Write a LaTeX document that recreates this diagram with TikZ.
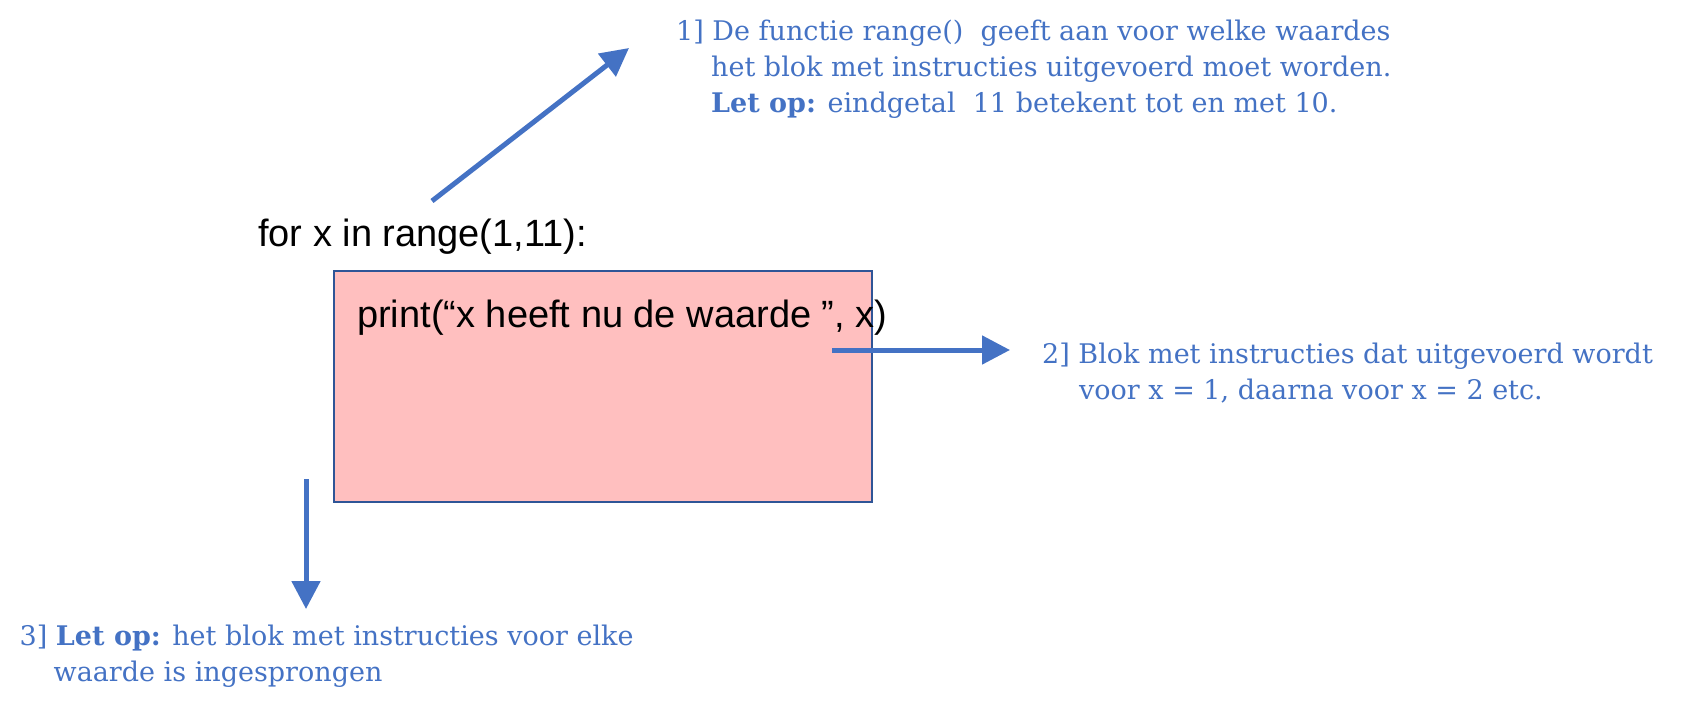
\documentclass[tikz,border=0pt]{standalone}
\usepackage{fontspec}
\setmainfont{DejaVu Serif}
\newfontfamily\codefont{Liberation Sans}
\usetikzlibrary{arrows.meta}
\definecolor{noteblue}{HTML}{4472C4}
\definecolor{boxfill}{HTML}{FFBFBF}
\definecolor{boxline}{HTML}{2F5597}
\tikzset{
  note/.style={text=noteblue, font=\fontsize{27}{36}\selectfont, align=left, inner sep=0pt, anchor=north west},
  code/.style={font=\codefont\fontsize{38}{40}\selectfont, inner sep=0pt, anchor=base west},
  pointer/.style={draw=noteblue, line width=5pt, -{Triangle[width=28pt,length=28pt]}},
}
\begin{document}
\begin{tikzpicture}[x=1pt,y=-1pt]
\useasboundingbox (0,0) rectangle (1697,704);
\node[draw=boxline, fill=boxfill, line width=2pt, minimum width=538pt, minimum height=231.5pt, inner sep=0pt, anchor=north west] (box) at (333,269.5) {};
\node[code] (for) at (258,246) {for x in range(1,11):};
\node[code] (print) at (357,327) {print(“x heeft nu de waarde ”, x)};
\node[note] (n1) at (676,19.5) {1] De functie range()\ \ geeft aan voor welke waardes\\\hspace*{35pt}het blok met instructies uitgevoerd moet worden.\\\hspace*{35pt}\textbf{Let op:} eindgetal\ \ 11 betekent tot en met 10.};
\node[note] (n2) at (1042,343) {2] Blok met instructies dat uitgevoerd wordt\\\hspace*{37pt}voor x = 1, daarna voor x = 2 etc.};
\node[note] (n3) at (19.5,624.5) {3] \textbf{Let op:} het blok met instructies voor elke\\\hspace*{34pt}waarde is ingesprongen};
\coordinate (a1s) at (432,201);
\coordinate (a1e) at (629,48);
\coordinate (a2s) at (832,350);
\coordinate (a2e) at (1010,350);
\coordinate (a3s) at (306,479);
\coordinate (a3e) at (306,609);
\draw[pointer] (a1s) -- (a1e);
\draw[pointer] (a2s) -- (a2e);
\draw[pointer] (a3s) -- (a3e);
\end{tikzpicture}
\end{document}
